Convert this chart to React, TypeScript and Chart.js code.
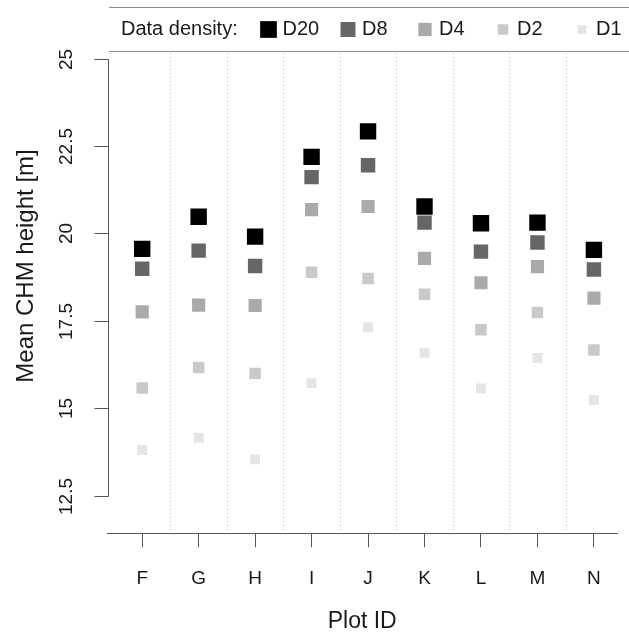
import React, { useEffect, useRef } from "react";
import { Chart, registerables } from "chart.js";

Chart.register(...registerables);

// ---- data ----
const plotIds = ["F", "G", "H", "I", "J", "K", "L", "M", "N"];
const seriesNames = ["D20", "D8", "D4", "D2", "D1"];
const d20 = [19.56, 20.48, 19.91, 22.19, 22.92, 20.77, 20.29, 20.31, 19.53];
const d8 = [18.99, 19.51, 19.07, 21.61, 21.95, 20.31, 19.48, 19.74, 18.97];
const d4 = [17.76, 17.95, 17.94, 20.68, 20.77, 19.29, 18.59, 19.05, 18.15];
const d2 = [15.58, 16.17, 16.0, 18.89, 18.71, 18.26, 17.25, 17.74, 16.67];
const d1 = [13.81, 14.16, 13.54, 15.72, 17.32, 16.59, 15.57, 16.44, 15.24];
const yTickValues = [12.5, 15, 17.5, 20, 22.5, 25];
const yTickLabels = ["12.5", "15", "17.5", "20", "22.5", "25"];
const legendTitle = "Data density:";
const xTitle = "Plot ID";
const yTitle = "Mean CHM height [m]";

// ---- styles ----
const seriesValues = [d20, d8, d4, d2, d1];
const seriesColors = ["#000000", "#666666", "#aaaaaa", "#c9c9c9", "#e5e5e5"];
const seriesRadii = [11.6, 10.2, 9.3, 8.1, 7.0];
const legendRadii = [11.8, 10.6, 9.4, 7.4, 6.2];
const legendCenters = [268.5, 348, 425, 503, 582];
const FONT = "'Liberation Sans', Arial, Helvetica, sans-serif";
const TEXT = "#1a1a1a";
const AXIS = "#555555";

const rPlugin = {
  id: "rstyle",
  beforeDatasetsDraw(chart: any) {
    const { ctx, chartArea, scales } = chart;
    const xs = scales.x;
    ctx.save();
    ctx.strokeStyle = "#b8b8b8";
    ctx.lineWidth = 1;
    ctx.setLineDash([1, 3]);
    for (let i = 0; i < plotIds.length - 1; i++) {
      const px = Math.round(xs.getPixelForValue(i + 0.5)) + 0.5;
      ctx.beginPath();
      ctx.moveTo(px, chartArea.top);
      ctx.lineTo(px, chartArea.bottom);
      ctx.stroke();
    }
    ctx.restore();
  },
  afterDraw(chart: any) {
    const { ctx, chartArea, scales } = chart;
    const ys = scales.y;
    ctx.save();
    // y axis line + ticks
    const ax = chartArea.left + 1.5;
    const yTop = Math.round(ys.getPixelForValue(yTickValues[yTickValues.length - 1])) + 0.5;
    const yBot = Math.round(ys.getPixelForValue(yTickValues[0])) + 0.5;
    ctx.strokeStyle = AXIS;
    ctx.lineWidth = 1;
    ctx.beginPath();
    ctx.moveTo(ax, yTop);
    ctx.lineTo(ax, yBot);
    ctx.stroke();
    ctx.fillStyle = TEXT;
    ctx.font = `19px ${FONT}`;
    ctx.textAlign = "center";
    ctx.textBaseline = "middle";
    yTickValues.forEach((v, i) => {
      const py = Math.round(ys.getPixelForValue(v)) + 0.5;
      ctx.beginPath();
      ctx.moveTo(ax - 14, py);
      ctx.lineTo(ax, py);
      ctx.stroke();
      ctx.save();
      ctx.translate(67, py);
      ctx.rotate(-Math.PI / 2);
      ctx.fillText(yTickLabels[i], 0, 0);
      ctx.restore();
    });
    // y title
    ctx.save();
    ctx.font = `24px ${FONT}`;
    ctx.translate(26, 266);
    ctx.rotate(-Math.PI / 2);
    ctx.fillText(yTitle, 0, 0);
    ctx.restore();

    // legend box lines
    ctx.strokeStyle = "#8c8c8c";
    ctx.beginPath();
    ctx.moveTo(109, 7.5);
    ctx.lineTo(chart.width, 7.5);
    ctx.moveTo(109, 51.5);
    ctx.lineTo(chart.width, 51.5);
    ctx.stroke();
    const ly = 29.5;
    ctx.font = `20px ${FONT}`;
    ctx.textAlign = "left";
    ctx.fillStyle = TEXT;
    ctx.fillText(legendTitle, 121, ly);
    seriesNames.forEach((name, i) => {
      const half = Math.SQRT1_2 * legendRadii[i];
      ctx.fillStyle = seriesColors[i];
      ctx.fillRect(legendCenters[i] - half, ly - half, 2 * half, 2 * half);
      ctx.fillStyle = TEXT;
      ctx.fillText(name, legendCenters[i] + 14, ly);
    });
    ctx.restore();
  },
};

export default function App() {
  const ref = useRef<HTMLCanvasElement | null>(null);
  useEffect(() => {
    if (!ref.current) return;
    const chart = new Chart(ref.current, {
      type: "scatter",
      data: {
        datasets: seriesNames.map((name, s) => ({
          label: name,
          data: seriesValues[s].map((v, i) => ({ x: i, y: v })),
          backgroundColor: seriesColors[s],
          borderColor: seriesColors[s],
          pointStyle: "rect",
          pointRadius: seriesRadii[s],
          pointBorderWidth: 0,
          showLine: false,
        })),
      },
      options: {
        animation: false,
        responsive: true,
        maintainAspectRatio: false,
        events: [],
        layout: { padding: { left: 107, right: 0, top: 53, bottom: 0 } },
        plugins: { legend: { display: false }, tooltip: { enabled: false } },
        scales: {
          x: {
            type: "linear",
            min: -0.623,
            max: 8.416,
            afterBuildTicks: (scale: any) => {
              scale.ticks = plotIds.map((_, i) => ({ value: i }));
            },
            ticks: {
              autoSkip: false,
              maxRotation: 0,
              padding: 20,
              color: TEXT,
              font: { family: FONT, size: 19 },
              callback: (v: any) => plotIds[Number(v)] ?? "",
            },
            grid: { drawOnChartArea: false, drawTicks: true, tickLength: 14, color: AXIS },
            border: { display: true, color: AXIS, width: 1 },
            title: {
              display: true,
              text: xTitle,
              color: TEXT,
              font: { family: FONT, size: 23, lineHeight: 1 },
              padding: { top: 0, bottom: 0 },
            },
          },
          y: {
            type: "linear",
            display: false,
            min: 11.43,
            max: 25.16,
          },
        },
      },
      plugins: [rPlugin],
    });
    return () => chart.destroy();
  }, []);
  return (
    <div style={{ position: "absolute", left: 0, top: 0, width: 629, height: 633, background: "#fff" }}>
      <canvas ref={ref} />
    </div>
  );
}
